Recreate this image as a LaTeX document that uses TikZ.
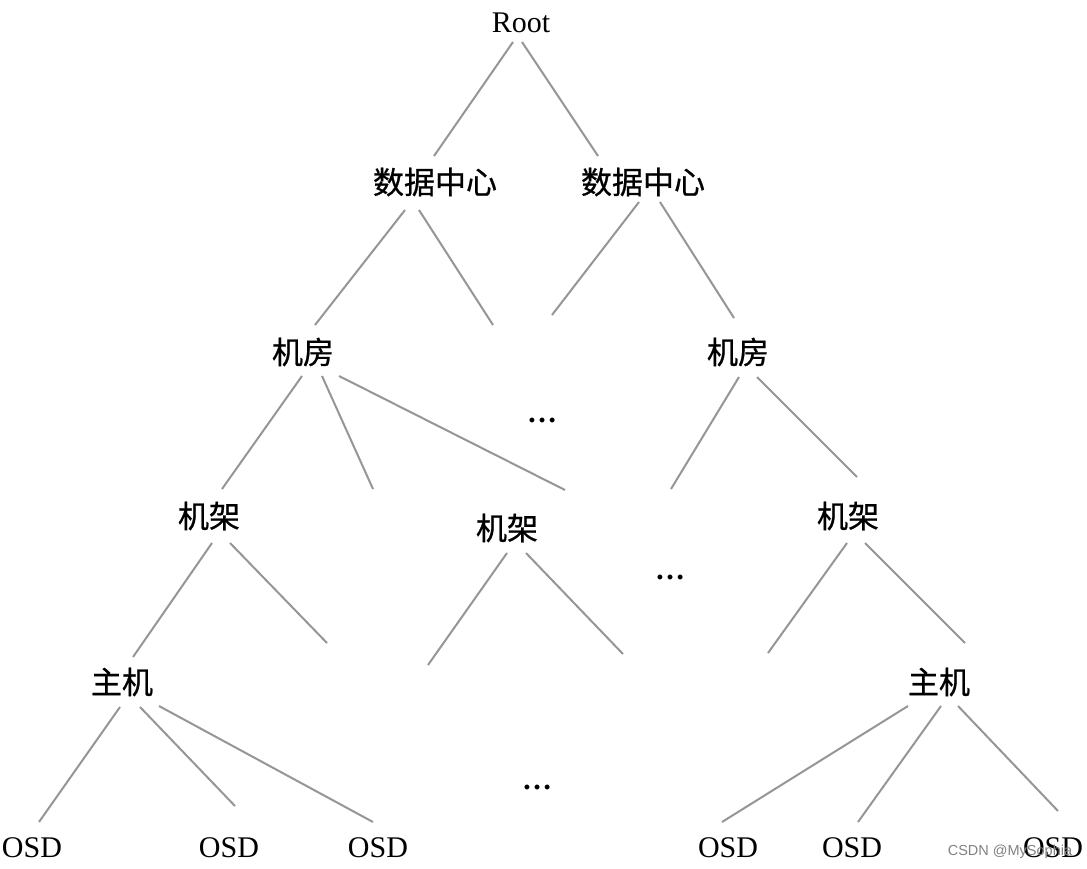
\documentclass[tikz,border=0pt]{standalone}
\usepackage{fontspec}
\setmainfont{Liberation Serif}
\newfontfamily\cjk[FakeBold=0.8]{Noto Sans CJK SC}
\newfontfamily\wmfont{Liberation Sans}
\usetikzlibrary{calc}
\definecolor{linegray}{RGB}{150,150,150}
\definecolor{wmgray}{RGB}{130,130,130}
\begin{document}
\begin{tikzpicture}[x=1pt,y=-1pt,
  lat/.style={inner sep=0pt, font=\fontsize{30}{30}\selectfont},
  zh/.style={inner sep=0pt, font=\fontsize{31}{31}\selectfont\cjk},
  dotsnode/.style={inner sep=0pt, font=\fontsize{30}{30}\selectfont\bfseries},
  edge/.style={draw=linegray, line width=2pt}]
\useasboundingbox[fill=white] (0,0) rectangle (1087,869);
% nodes
\node[lat] (root) at (521,23) {Root};
\node[zh] (dc1) at (435,182) {数据中心};
\node[zh] (dc2) at (643,182) {数据中心};
\node[zh] (mf1) at (303,352) {机房};
\node[zh] (mf2) at (738,352) {机房};
\node[dotsnode] (dots1) at (542,420) {…};
\node[zh] (rk1) at (209,516) {机架};
\node[zh] (rk2) at (507,528) {机架};
\node[zh] (rk3) at (848,516) {机架};
\node[dotsnode] (dots2) at (670,577) {…};
\node[zh] (h1) at (122,682) {主机};
\node[zh] (h2) at (939,682) {主机};
\node[dotsnode] (dots3) at (537,787) {…};
\node[lat] (osd1) at (32,848) {OSD};
\node[lat] (osd2) at (229,848) {OSD};
\node[lat] (osd3) at (378,848) {OSD};
\node[lat] (osd4) at (728,848) {OSD};
\node[lat] (osd5) at (852,848) {OSD};
\node[lat] (osd6) at (1053,848) {OSD};
\node[inner sep=0pt, text=wmgray, font=\fontsize{14.5}{14.5}\selectfont\wmfont] (wm) at (1010,852) {CSDN @MySophia};
% dangling ends
\coordinate (e1) at (493,325);
\coordinate (e2) at (552,315);
\coordinate (e3) at (373,489);
\coordinate (e4) at (671,489);
\coordinate (e5) at (327,643);
\coordinate (e6) at (428,665);
\coordinate (e7) at (623,654);
\coordinate (e8) at (768,653);
% connectors
\draw[edge] ($(root)+(-8,19)$) -- ($(dc1)+(-1,-26)$);
\draw[edge] ($(root)+(1,19)$) -- ($(dc2)+(-45,-26)$);
\draw[edge] ($(dc1)+(-30,28)$) -- ($(mf1)+(12,-27)$);
\draw[edge] ($(dc1)+(-16,28)$) -- (e1);
\draw[edge] ($(dc2)+(-4,20)$) -- (e2);
\draw[edge] ($(dc2)+(17,20)$) -- ($(mf2)+(-4,-34)$);
\draw[edge] ($(mf1)+(-1,24)$) -- ($(rk1)+(13,-27)$);
\draw[edge] ($(mf1)+(19,24)$) -- (e3);
\draw[edge] ($(mf1)+(36,24)$) -- ($(rk2)+(58,-38)$);
\draw[edge] ($(mf2)+(1,25)$) -- (e4);
\draw[edge] ($(mf2)+(19,25)$) -- ($(rk3)+(9,-39)$);
\draw[edge] ($(rk1)+(3,27)$) -- ($(h1)+(11,-25)$);
\draw[edge] ($(rk1)+(21,27)$) -- (e5);
\draw[edge] ($(rk2)+(0,25)$) -- (e6);
\draw[edge] ($(rk2)+(19,25)$) -- (e7);
\draw[edge] ($(rk3)+(-1,27)$) -- (e8);
\draw[edge] ($(rk3)+(17,27)$) -- ($(h2)+(26,-39)$);
\draw[edge] ($(h1)+(-2,25)$) -- ($(osd1)+(7,-26)$);
\draw[edge] ($(h1)+(18,25)$) -- ($(osd2)+(6,-42)$);
\draw[edge] ($(h1)+(37,24)$) -- ($(osd3)+(-5,-26)$);
\draw[edge] ($(h2)+(-31,24)$) -- ($(osd4)+(-6,-26)$);
\draw[edge] ($(h2)+(2,24)$) -- ($(osd5)+(6,-26)$);
\draw[edge] ($(h2)+(19,24)$) -- ($(osd6)+(5,-37)$);
\end{tikzpicture}
\end{document}
